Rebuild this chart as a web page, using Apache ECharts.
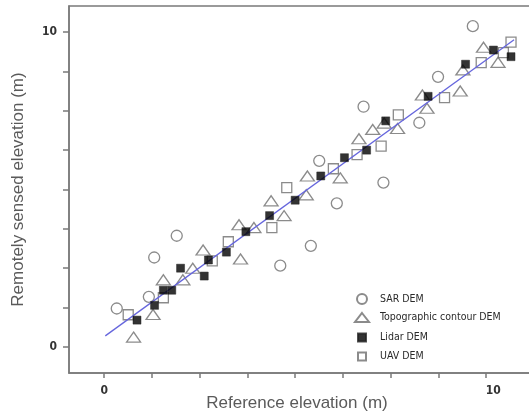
<!DOCTYPE html>
<html>
<head>
<meta charset="utf-8">
<script src="https://cdn.jsdelivr.net/npm/echarts@6/dist/echarts.min.js"></script>
<style>
html,body{margin:0;padding:0;background:#fff;}
#c{width:529px;height:416px;}
</style>
</head>
<body>
<div id="c"></div>
<script>
// ---- data ----
var sarX = [0.33,1.17,1.31,1.90,4.61,5.41,5.63,6.09,6.79,7.31,8.25,8.74,9.65];
var sarY = [1.22,1.59,2.84,3.53,2.58,3.21,5.91,4.56,7.63,5.22,7.12,8.58,10.19];

var topoX = [0.77,1.28,1.55,2.06,2.32,2.59,3.57,3.53,3.92,4.37,4.71,5.29,5.32,6.18,6.67,7.03,7.33,7.68,8.33,8.45,9.32,9.39,9.93,10.31];
var topoY = [0.31,1.03,2.13,2.13,2.50,3.08,2.79,3.88,3.79,4.64,4.17,4.83,5.43,5.37,6.61,6.91,7.11,6.94,8.00,7.58,8.13,8.80,9.52,9.04];

var lidarX = [0.86,1.32,1.55,1.77,2.00,2.62,2.73,3.20,3.71,4.33,5.00,5.67,6.29,6.87,7.37,8.48,9.46,10.19,10.65];
var lidarY = [0.85,1.32,1.80,1.80,2.50,2.25,2.76,3.01,3.66,4.17,4.66,5.43,6.01,6.25,7.18,7.96,8.98,9.43,9.22];

var uavX = [0.63,1.55,2.83,3.25,4.39,4.78,6.00,6.62,7.25,7.70,8.91,9.87,10.45,10.65];
var uavY = [1.02,1.56,2.73,3.34,3.79,5.06,5.66,6.11,6.38,7.37,7.92,9.03,9.35,9.68];

var fitX = [0.03, 10.73];
var fitY = [0.35, 9.76];

var tickValues = [0,1.25,2.5,3.75,5,6.25,7.5,8.75,10];
var labelValues = [0,10];

var seriesNames = ['SAR DEM','Topographic contour DEM','Lidar DEM','UAV DEM'];
var xTitle = 'Reference elevation (m)';
var yTitle = 'Remotely sensed elevation (m)';

function zip(a,b){return a.map(function(v,i){return [v,b[i]];});}

var axisGray = '#7a7a7a';
var markGray = '#6e6e6e';
var labelFont = 'DejaVu Sans Condensed';

var legendText = {fontFamily: labelFont, fontSize: 10.5, color: '#2a2a2a'};

function mkLegend(name, top, w, h, icon){
  return {
    data:[{name:name, icon:icon}],
    left: 361 - w/2, top: top, padding: 0,
    itemWidth: w, itemHeight: h, itemGap: 0,
    selectedMode: false,
    textStyle: Object.assign({padding:[0,0,0,13 - w/2]}, legendText)
  };
}

var chart = echarts.init(document.getElementById('c'), null, {renderer:'canvas'});
chart.setOption({
  animation:false,
  backgroundColor:'#fff',
  grid:{left:69, right:-8, top:6, bottom:43, show:true, borderColor:axisGray, borderWidth:1.5,
        containLabel:false, outerBoundsMode:'none'},
  legend:[
    mkLegend(seriesNames[0], 293, 10, 10, 'circle'),
    mkLegend(seriesNames[1], 312, 14, 9, 'triangle'),
    mkLegend(seriesNames[2], 332, 8, 8, 'rect'),
    mkLegend(seriesNames[3], 351, 8, 8, 'rect')
  ],
  xAxis:{
    type:'value', min:-0.92, max:11.33,
    name:xTitle, nameLocation:'middle', nameGap:22, nameMoveOverlap:false,
    nameTextStyle:{fontFamily:'Liberation Sans', fontSize:17, color:'#5a5a5a', padding:[0,12,0,0]},
    axisLine:{show:true, onZero:false, lineStyle:{color:axisGray, width:1.5}},
    axisTick:{show:true, customValues:tickValues, length:5, lineStyle:{color:axisGray, width:1.5}},
    axisLabel:{show:true, customValues:labelValues, margin:12,
      fontFamily:labelFont, fontSize:12, fontWeight:'bold', color:'#333',
      formatter:function(v){ return v===10 ? '{a|10}' : String(v); },
      rich:{a:{fontFamily:labelFont, fontSize:12, fontWeight:'bold', color:'#333', padding:[0,0,0,14]}}
    },
    splitLine:{show:false}
  },
  yAxis:{
    type:'value', min:-0.83, max:10.83,
    name:yTitle, nameLocation:'middle', nameGap:42, nameRotate:90, nameMoveOverlap:false,
    nameTextStyle:{fontFamily:'Liberation Sans', fontSize:17, color:'#5a5a5a'},
    axisLine:{show:true, onZero:false, lineStyle:{color:axisGray, width:1.5}},
    axisTick:{show:true, customValues:tickValues, length:6, lineStyle:{color:axisGray, width:1.5}},
    axisLabel:{show:true, customValues:labelValues, margin:12,
      fontFamily:labelFont, fontSize:12, fontWeight:'bold', color:'#333'},
    splitLine:{show:false}
  },
  series:[
    {name:seriesNames[0], type:'scatter', data:zip(sarX,sarY), symbol:'circle', symbolSize:11, z:2,
      itemStyle:{color:'rgba(255,255,255,0)', borderColor:markGray, borderWidth:1.3}},
    {name:seriesNames[1], type:'scatter', data:zip(topoX,topoY), symbol:'triangle', symbolSize:[14,10], z:2,
      itemStyle:{color:'rgba(255,255,255,0)', borderColor:markGray, borderWidth:1.3}},
    {name:seriesNames[3], type:'scatter', data:zip(uavX,uavY), symbol:'rect', symbolSize:10, z:2,
      itemStyle:{color:'rgba(255,255,255,0)', borderColor:markGray, borderWidth:1.3}},
    {name:'fit', type:'line', data:zip(fitX,fitY), showSymbol:false, symbol:'none', z:3,
      lineStyle:{color:'#6666dd', width:1.3}},
    {name:seriesNames[2], type:'scatter', data:zip(lidarX,lidarY), symbol:'rect', symbolSize:8, z:4,
      itemStyle:{color:'#000', borderColor:'#222', borderWidth:0.6}}
  ]
});
</script>
</body>
</html>
